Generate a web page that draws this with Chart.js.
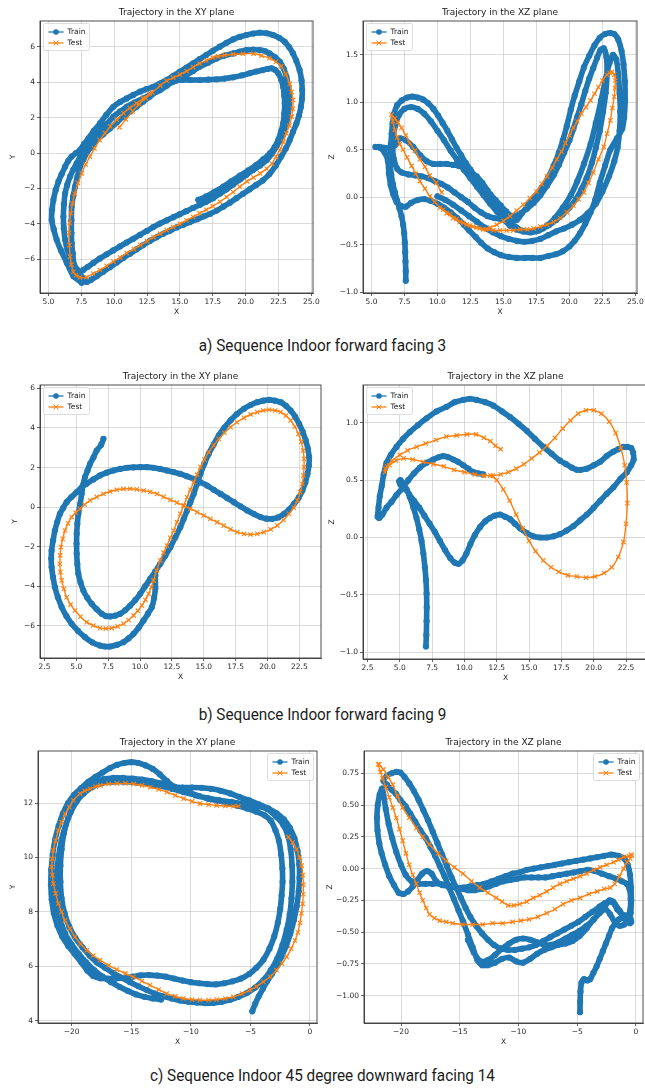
<!DOCTYPE html>
<html>
<head>
<meta charset="utf-8">
<script src="https://cdn.jsdelivr.net/npm/chart.js@4.4.1/dist/chart.umd.min.js"></script>
<style>
  html, body { margin: 0; padding: 0; background: #fff; overflow: hidden; }
  body { width: 645px; height: 1089px; position: relative; }
  canvas { position: absolute; }
  .caption {
    position: absolute; left: 0; width: 645px; text-align: center;
    font-family: Roboto, "Noto Sans", sans-serif; font-size: 17px; line-height: 20px;
    color: #1c1c1c; transform: scaleX(0.9); transform-origin: 322px 50%;
  }
</style>
</head>
<body>
<div class="caption" style="top:335px">a) Sequence Indoor forward facing 3</div>
<div class="caption" style="top:704px">b) Sequence Indoor forward facing 9</div>
<div class="caption" style="top:1065px">c) Sequence Indoor 45 degree downward facing 14</div>
<script>
// ---------- series names ----------
const seriesNames = ['Train', 'Test'];

// ---------- tick values ----------
const seq3XTicks = [5, 7.5, 10, 12.5, 15, 17.5, 20, 22.5, 25];
const seq3YTicks = [-6, -4, -2, 0, 2, 4, 6];
const seq3ZTicks = [-1.0, -0.5, 0.0, 0.5, 1.0, 1.5];
const seq9XTicks = [2.5, 5, 7.5, 10, 12.5, 15, 17.5, 20, 22.5];
const seq9YTicks = [-6, -4, -2, 0, 2, 4, 6];
const seq9ZTicks = [-1.0, -0.5, 0.0, 0.5, 1.0];
const seq14XTicks = [-20, -15, -10, -5, 0];
const seq14YTicks = [4, 6, 8, 10, 12];
const seq14ZTicks = [-1.0, -0.75, -0.5, -0.25, 0.0, 0.25, 0.5, 0.75];

// ---------- sequence 3 : XY ----------
const seq3XYTrain = [
  [7.53,-7.32],[6.9,-6.95],[6.4,-6.2],[5.95,-5.5],[5.63,-4.9],[5.4,-4.3],[5.25,-3.78],[5.28,-3.2],[5.38,-2.65],[5.55,-2.1],
  [5.76,-1.62],[6.0,-1.2],[6.27,-0.77],[6.5,-0.45],[6.77,-0.2],[7.1,0.0],[7.4,0.17],[7.7,0.5],[8.04,0.83],[8.45,1.25],
  [8.92,1.67],[9.4,2.15],[9.94,2.61],[10.45,2.88],[10.95,3.08],[11.45,3.28],[11.96,3.46],[12.45,3.6],[12.97,3.74],[13.48,3.92],
  [13.99,4.12],[14.5,4.35],[15.0,4.59],[15.5,4.82],[16.0,5.06],[16.5,5.3],[17.0,5.53],[17.5,5.77],[18.04,6.0],[18.55,6.22],
  [19.05,6.41],[19.55,6.55],[20.06,6.66],[20.57,6.74],[21.08,6.79],[21.6,6.76],[22.09,6.66],[22.55,6.5],[22.97,6.28],[23.3,5.98],
  [23.6,5.62],[23.85,5.2],[24.1,4.68],[24.25,4.1],[24.3,3.55],[24.28,3.05],[24.2,2.6],[24.05,2.1],[23.86,1.67],[23.6,1.2],
  [23.35,0.73],[23.05,0.25],[22.7,-0.2],[22.3,-0.7],[21.8,-1.2],[21.3,-1.55],[20.8,-1.8],[20.3,-2.05],[19.8,-2.3],[19.3,-2.55],
  [18.8,-2.8],[18.3,-3.03],[17.8,-3.25],[17.3,-3.43],[16.8,-3.58],[16.3,-3.74],[15.76,-3.9],[15.25,-4.05],[14.75,-4.2],[14.24,-4.38],
  [13.73,-4.56],[13.22,-4.76],[12.72,-4.96],[12.2,-5.2],[11.7,-5.44],[11.2,-5.68],[10.7,-5.92],[10.2,-6.18],[9.68,-6.44],[9.17,-6.7],
  [8.67,-6.95],[8.25,-7.15],[7.9,-7.28],[7.2,-6.6],[6.77,-6.04],[6.45,-5.5],[6.27,-4.9],[6.17,-4.25],[6.14,-3.6],[6.18,-2.9],
  [6.27,-2.28],[6.43,-1.8],[6.65,-1.33],[6.88,-0.95],[7.15,-0.58],[7.5,-0.1],[7.9,0.36],[8.4,0.78],[8.92,1.2],[9.43,1.63],
  [9.94,2.05],[10.45,2.35],[10.95,2.61],[11.55,2.85],[12.2,3.08],[12.85,3.32],[13.5,3.55],[14.0,3.8],[14.5,4.03],[15.0,4.22],
  [15.5,4.4],[16.0,4.63],[16.5,4.87],[17.15,5.1],[17.8,5.34],[18.4,5.5],[19.05,5.62],[19.55,5.72],[20.06,5.81],[20.57,5.83],
  [21.08,5.81],[21.5,5.74],[21.8,5.62],[22.25,5.4],[22.6,5.15],[22.9,4.75],[23.1,4.3],[23.25,3.75],[23.35,3.18],[23.3,2.6],
  [23.2,2.05],[23.05,1.55],[22.85,1.1],[22.6,0.72],[22.34,0.36],[22.0,-0.03],[21.6,-0.4],[21.1,-0.7],[20.57,-0.96],[20.06,-1.22],
  [19.56,-1.5],[19.05,-1.78],[18.54,-2.05],[18.03,-2.3],[17.53,-2.55],[17.0,-2.75],[16.5,-2.93],[16.0,-3.1],[15.5,-3.28],[15.0,-3.45],
  [14.5,-3.62],[14.0,-3.8],[13.48,-3.98],[12.97,-4.18],[12.47,-4.4],[11.96,-4.62],[11.46,-4.84],[10.95,-5.05],[10.44,-5.27],[9.93,-5.5],
  [9.43,-5.72],[8.92,-5.95],[8.42,-6.2],[8.0,-6.42],[7.66,-6.6],[7.28,-6.75],[6.95,-6.3],[6.85,-5.66],[6.77,-5.1],[6.75,-4.53],
  [6.75,-3.8],[6.77,-3.03],[6.88,-2.45],[7.03,-1.9],[7.2,-1.35],[7.4,-0.77],[7.65,-0.38],[7.9,-0.02],[8.25,0.35],[8.67,0.73],
  [9.15,1.05],[9.68,1.39],[10.2,1.72],[10.7,2.05],[11.2,2.33],[11.7,2.61],[12.2,2.9],[12.7,3.18],[13.2,3.46],[13.7,3.74],
  [14.2,3.95],[14.7,4.08],[15.2,4.12],[15.8,4.12],[16.5,4.12],[17.15,4.14],[17.8,4.16],[18.4,4.2],[19.05,4.27],[19.7,4.38],
  [20.3,4.5],[20.8,4.6],[21.3,4.68],[21.7,4.75],[21.96,4.78],[22.25,4.68],[22.47,4.5],[22.7,4.15],[22.85,3.74],[22.93,3.25],
  [22.97,2.8],[22.93,2.2],[22.85,1.67],[22.68,1.2],[22.47,0.73],[22.2,0.33],[21.84,-0.02],[21.35,-0.35],[20.8,-0.68],[20.2,-0.98],
  [19.56,-1.28],[18.9,-1.6],[18.3,-1.9],[17.6,-2.2],[17.0,-2.45],[16.4,-2.65]
];
const seq3XYTest = [
  [10.4,1.45],[10.9,1.9],[11.4,2.35],[11.9,2.75],[12.4,3.1],[12.9,3.42],[13.5,3.8],[14.0,4.08],[14.5,4.25],[15.0,4.42],
  [15.5,4.62],[16.0,4.85],[16.5,5.05],[17.0,5.22],[17.5,5.38],[17.9,5.45],[18.4,5.52],[19.05,5.57],[19.8,5.6],[20.6,5.6],
  [21.2,5.5],[21.8,5.35],[22.3,5.15],[22.7,4.9],[23.05,4.45],[23.35,3.9],[23.5,3.45],[23.6,3.0],[23.58,2.5],[23.5,2.05],
  [23.32,1.55],[23.1,1.1],[22.87,0.63],[22.6,0.17],[22.3,-0.22],[22.0,-0.6],[21.6,-0.88],[21.1,-1.15],[20.6,-1.38],[20.1,-1.6],
  [19.55,-1.9],[19.05,-2.2],[18.55,-2.48],[18.05,-2.75],[17.5,-3.0],[17.0,-3.2],[16.5,-3.4],[16.0,-3.6],[15.5,-3.8],[15.0,-4.0],
  [14.5,-4.18],[14.0,-4.35],[13.5,-4.55],[13.0,-4.75],[12.5,-4.97],[12.0,-5.2],[11.5,-5.42],[10.95,-5.65],[10.45,-5.9],[9.94,-6.13],
  [9.43,-6.37],[8.92,-6.6],[8.4,-6.8],[7.9,-7.0],[7.4,-7.02],[7.1,-6.9],[6.9,-6.7],[6.75,-6.3],[6.65,-5.85],[6.6,-5.2],
  [6.57,-4.5],[6.62,-3.95],[6.7,-3.4],[6.83,-2.85],[7.0,-2.3],[7.25,-1.7],[7.53,-1.15],[7.83,-0.65],[8.16,-0.2],[8.5,0.25],
  [8.9,0.73],[9.3,1.12],[9.7,1.5],[10.2,1.88],[10.7,2.25],[11.2,2.55],[11.7,2.8],[12.2,3.08],[12.7,3.35]
];

// ---------- sequence 3 : XZ ----------
const seq3XZTrain = [
  [7.6,-0.88],[7.6,-0.78],[7.58,-0.68],[7.56,-0.58],[7.53,-0.48],[7.48,-0.38],[7.4,-0.29],[7.28,-0.2],[7.12,-0.12],[6.95,-0.04],
  [6.78,0.05],[6.62,0.14],[6.5,0.24],[6.42,0.34],[6.42,0.45],[6.47,0.56],[6.53,0.67],[6.6,0.78],[6.72,0.88],[6.95,0.97],
  [7.3,1.02],[7.7,1.05],[8.1,1.06],[8.5,1.05],[8.9,1.03],[9.3,0.99],[9.7,0.93],[10.05,0.86],[10.4,0.78],[10.75,0.7],
  [11.1,0.61],[11.45,0.52],[11.8,0.44],[12.15,0.36],[12.5,0.29],[12.85,0.22],[13.2,0.15],[13.6,0.09],[14.0,0.03],[14.4,-0.03],
  [14.8,-0.09],[15.2,-0.15],[15.6,-0.2],[16.0,-0.24],[16.4,-0.17],[16.9,-0.08],[17.4,0.01],[17.9,0.1],[18.4,0.21],[18.8,0.33],
  [19.2,0.47],[19.5,0.6],[19.8,0.75],[20.1,0.92],[20.4,1.07],[20.75,1.22],[21.1,1.37],[21.5,1.49],[21.9,1.6],[22.3,1.68],
  [22.7,1.72],[23.1,1.73],[23.4,1.72],[23.7,1.66],[23.95,1.54],[24.1,1.4],[24.2,1.22],[24.22,1.02],[24.15,0.84],[24.0,0.72],
  [23.6,0.62],[23.1,0.5],[22.7,0.33],[22.3,0.15],[21.95,-0.03],[21.6,-0.16],[21.2,-0.28],[20.8,-0.38],[20.4,-0.46],[20.0,-0.52],
  [19.5,-0.57],[19.0,-0.6],[18.4,-0.62],[17.8,-0.64],[17.2,-0.64],[16.6,-0.64],[16.0,-0.64],[15.4,-0.63],[14.8,-0.61],[14.3,-0.58],
  [13.8,-0.54],[13.3,-0.48],[12.9,-0.42],[12.4,-0.35],[12.0,-0.29],[11.5,-0.22],[11.0,-0.16],[10.5,-0.11],[10.0,-0.07],[9.5,-0.04],
  [9.0,-0.02],[8.5,-0.03],[8.0,-0.06],[7.6,-0.1],[7.2,-0.09],[6.9,-0.05],[6.65,0.03],[6.45,0.13],[6.32,0.25],[6.25,0.38],
  [6.0,0.47],[5.65,0.52],[5.3,0.53],[5.6,0.53],[6.0,0.52],[6.4,0.52],[6.8,0.55],[7.15,0.62],[7.6,0.6],[8.16,0.53],
  [8.7,0.44],[9.18,0.38],[9.7,0.35],[10.2,0.35],[10.7,0.35],[11.2,0.34],[11.6,0.33],[11.96,0.31],[12.45,0.27],[12.97,0.22],
  [13.4,0.15],[13.8,0.07],[14.2,-0.02],[14.6,-0.1],[15.0,-0.18],[15.5,-0.26],[16.0,-0.32],[16.5,-0.36],[17.0,-0.37],[17.5,-0.36],
  [18.0,-0.33],[18.5,-0.29],[19.0,-0.24],[19.5,-0.18],[20.0,-0.11],[20.5,-0.02],[20.9,0.08],[21.3,0.2],[21.7,0.36],[22.0,0.52],
  [22.3,0.7],[22.55,0.9],[22.75,1.1],[22.85,1.3],[22.8,1.48],[22.6,1.57],[22.35,1.55],[22.1,1.47],[21.8,1.36],[21.5,1.25],
  [21.2,1.12],[20.9,0.98],[20.6,0.85],[20.3,0.72],[20.0,0.6],[19.6,0.47],[19.2,0.34],[18.8,0.23],[18.3,0.12],[17.8,0.02],
  [17.3,-0.06],[16.8,-0.12],[16.3,-0.17],[15.8,-0.2],[15.3,-0.22],[14.8,-0.23],[14.3,-0.22],[13.8,-0.2],[13.3,-0.16],[12.8,-0.11],
  [12.3,-0.05],[11.8,0.0],[11.3,0.05],[10.8,0.1],[10.3,0.14],[9.8,0.17],[9.3,0.2],[8.8,0.22],[8.3,0.23],[7.8,0.24],
  [7.3,0.26],[6.95,0.3],[6.7,0.4],[6.6,0.52],[6.65,0.62],[6.8,0.75],[7.1,0.87],[7.5,0.93],[8.0,0.95],[8.5,0.93],
  [9.0,0.88],[9.5,0.8],[10.0,0.7],[10.5,0.6],[11.0,0.49],[11.5,0.39],[12.0,0.29],[12.5,0.2],[13.0,0.11],[13.5,0.02],
  [14.0,-0.07],[14.5,-0.15],[15.0,-0.23],[15.5,-0.3],[16.0,-0.34],[16.5,-0.36],[17.1,-0.37],[17.7,-0.35],[18.3,-0.3],[18.9,-0.22],
  [19.5,-0.11],[20.1,0.02],[20.6,0.17],[21.1,0.35],[21.6,0.56],[22.0,0.78],[22.4,1.02],[22.75,1.25],[23.05,1.42],[23.3,1.5],
  [23.55,1.45],[23.7,1.3],[23.8,1.1],[23.85,0.9],[23.8,0.7],[23.65,0.52],[23.4,0.38],[23.0,0.22],[22.5,0.06],[22.0,-0.07],
  [21.4,-0.17],[20.8,-0.24],[20.2,-0.29],[19.6,-0.33],[19.0,-0.36],[18.4,-0.4],[17.8,-0.44],[17.2,-0.46],[16.6,-0.47],[16.0,-0.46],
  [15.4,-0.44],[14.8,-0.41],[14.2,-0.37],[13.6,-0.32],[13.0,-0.26],[12.4,-0.2],[11.8,-0.14],[11.2,-0.08],[10.6,-0.03],[10.0,0.01]
];
const seq3XZTest = [
  [10.32,0.05],[9.9,0.15],[9.43,0.23],[9.05,0.32],[8.67,0.4],[8.3,0.49],[7.91,0.57],[7.6,0.65],[7.28,0.73],[7.0,0.79],
  [6.77,0.83],[6.52,0.87],[6.62,0.8],[6.77,0.71],[6.95,0.63],[7.15,0.56],[7.4,0.5],[7.7,0.42],[8.04,0.33],[8.35,0.25],
  [8.67,0.17],[9.05,0.09],[9.43,0.01],[9.8,-0.05],[10.2,-0.11],[10.7,-0.17],[11.2,-0.22],[11.7,-0.26],[12.2,-0.29],[12.7,-0.31],
  [13.2,-0.33],[13.7,-0.34],[14.24,-0.35],[14.75,-0.35],[15.25,-0.35],[15.75,-0.35],[16.27,-0.34],[16.8,-0.34],[17.28,-0.33],[17.8,-0.31],
  [18.3,-0.29],[18.8,-0.26],[19.3,-0.22],[19.8,-0.16],[20.3,-0.09],[20.7,-0.02],[21.1,0.05],[21.45,0.15],[21.8,0.26],[22.2,0.4],
  [22.6,0.53],[22.85,0.67],[23.1,0.81],[23.25,0.94],[23.4,1.06],[23.45,1.15],[23.48,1.23],[23.4,1.29],[23.23,1.32],[23.05,1.31],
  [22.85,1.29],[22.5,1.23],[22.2,1.16],[21.9,1.09],[21.6,1.02],[21.25,0.95],[20.9,0.88],[20.6,0.8],[20.3,0.73],[20.0,0.65],
  [19.7,0.57],[19.4,0.48],[19.05,0.4],[18.7,0.31],[18.3,0.22],[17.9,0.14],[17.5,0.06],[17.0,-0.01],[16.5,-0.08],[16.0,-0.14],
  [15.5,-0.2],[15.0,-0.25],[14.5,-0.29],[14.0,-0.32],[13.48,-0.34],[12.97,-0.32],[12.47,-0.3],[11.96,-0.27],[11.46,-0.23],[10.95,-0.18],
  [10.44,-0.13]
];

// ---------- sequence 9 : XY ----------
const seq9XYTrain = [
  [7.13,3.45],[6.95,3.15],[6.6,2.86],[6.35,2.52],[6.08,2.19],[5.88,1.85],[5.68,1.52],[5.52,1.1],[5.42,0.67],[5.3,0.15],
  [5.16,-0.34],[5.08,-0.85],[5.03,-1.35],[5.02,-1.85],[5.03,-2.36],[5.08,-2.87],[5.16,-3.37],[5.33,-3.8],[5.55,-4.21],[5.85,-4.57],
  [6.2,-4.88],[6.58,-5.15],[6.99,-5.39],[7.3,-5.5],[7.65,-5.52],[8.05,-5.48],[8.44,-5.39],[8.85,-5.2],[9.23,-4.97],[9.62,-4.7],
  [10.01,-4.38],[10.4,-4.0],[10.8,-3.62],[11.2,-3.24],[11.59,-2.86],[11.98,-2.45],[12.38,-2.02],[12.77,-1.52],[13.16,-1.01],[13.42,-0.6],
  [13.69,-0.17],[13.95,0.25],[14.21,0.67],[14.47,1.17],[14.74,1.68],[15.05,2.2],[15.39,2.69],[15.78,3.17],[16.18,3.62],[16.62,4.02],
  [17.1,4.38],[17.6,4.7],[18.15,4.97],[18.68,5.16],[19.2,5.3],[19.65,5.38],[20.12,5.42],[20.6,5.38],[21.04,5.3],[21.45,5.12],
  [21.82,4.88],[22.17,4.57],[22.48,4.21],[22.77,3.8],[23.0,3.37],[23.17,2.95],[23.27,2.53],[23.25,2.1],[23.14,1.68],[22.97,1.25],
  [22.74,0.84],[22.45,0.48],[22.09,0.17],[21.7,-0.12],[21.3,-0.34],[20.85,-0.52],[20.38,-0.59],[19.92,-0.58],[19.46,-0.5],[18.95,-0.35],
  [18.41,-0.17],[17.88,0.04],[17.36,0.25],[16.84,0.46],[16.31,0.67],[15.78,0.88],[15.26,1.09],[14.73,1.26],[14.21,1.43],[13.68,1.56],
  [13.16,1.68],[12.64,1.77],[12.11,1.85],[11.58,1.93],[11.06,1.99],[10.53,2.02],[10.01,2.02],[9.48,2.01],[8.96,1.99],[8.43,1.93],
  [7.91,1.85],[7.38,1.74],[6.86,1.6],[6.33,1.4],[5.81,1.18],[5.4,0.98],[5.03,0.76],[4.62,0.51],[4.24,0.25],[3.96,-0.05],
  [3.71,-0.34],[3.5,-0.75],[3.32,-1.18],[3.18,-1.68],[3.06,-2.19],[3.03,-2.6],[3.06,-3.03],[3.17,-3.53],[3.32,-4.04],[3.55,-4.55],
  [3.85,-5.05],[4.22,-5.5],[4.63,-5.89],[5.13,-6.25],[5.68,-6.57],[6.25,-6.83],[6.86,-6.99],[7.25,-7.04],[7.65,-7.04],[8.2,-6.95],
  [8.7,-6.82],[9.1,-6.63],[9.49,-6.4],[9.9,-6.08],[10.28,-5.72],[10.62,-5.38],[10.93,-5.05],[11.1,-4.6],[11.2,-4.1],[11.2,-3.45]
];
const seq9XYTest = [
  [11.06,-3.7],[11.3,-3.2],[11.59,-2.69],[11.85,-2.3],[12.11,-1.94],[12.38,-1.55],[12.64,-1.18],[12.9,-0.76],[13.16,-0.34],[13.43,0.08],
  [13.69,0.5],[13.95,0.88],[14.21,1.26],[14.47,1.64],[14.74,2.02],[15.05,2.4],[15.39,2.78],[15.78,3.12],[16.18,3.45],[16.62,3.76],
  [17.1,4.04],[17.6,4.29],[18.15,4.51],[18.68,4.68],[19.2,4.8],[19.66,4.88],[20.12,4.92],[20.6,4.88],[21.04,4.8],[21.45,4.62],
  [21.82,4.38],[22.15,4.06],[22.43,3.7],[22.65,3.3],[22.8,2.86],[22.87,2.44],[22.87,2.02],[22.82,1.6],[22.74,1.18],[22.57,0.76],
  [22.35,0.34],[22.05,-0.02],[21.69,-0.34],[21.25,-0.65],[20.77,-0.93],[20.25,-1.12],[19.72,-1.26],[19.2,-1.35],[18.67,-1.38],[18.15,-1.35],
  [17.62,-1.26],[17.1,-1.12],[16.57,-0.93],[16.05,-0.76],[15.52,-0.59],[15.0,-0.42],[14.47,-0.25],[13.95,-0.08],[13.43,0.08],[12.9,0.23],
  [12.38,0.37],[11.85,0.52],[11.33,0.67],[10.8,0.77],[10.28,0.84],[9.75,0.9],[9.23,0.93],[8.7,0.92],[8.18,0.88],[7.65,0.79],
  [7.13,0.67],[6.6,0.52],[6.08,0.34],[5.65,0.13],[5.29,-0.08],[4.95,-0.28],[4.63,-0.5],[4.35,-0.82],[4.11,-1.18],[3.93,-1.6],
  [3.79,-2.02],[3.73,-2.44],[3.71,-2.86],[3.75,-3.28],[3.85,-3.7],[4.02,-4.13],[4.24,-4.55],[4.55,-4.92],[4.9,-5.22],[5.33,-5.53],
  [5.81,-5.81],[6.33,-5.98],[6.86,-6.11],[7.32,-6.13],[7.78,-6.11],[8.25,-6.02],[8.7,-5.89],[9.1,-5.7],[9.49,-5.47],[9.83,-5.23],
  [10.14,-4.97],[10.42,-4.68],[10.67,-4.38],[10.88,-4.04],[11.06,-3.7]
];

// ---------- sequence 9 : XZ ----------
const seq9XZTrain = [
  [7.02,-0.95],[7.05,-0.85],[7.07,-0.73],[7.08,-0.61],[7.07,-0.49],[7.02,-0.37],[6.94,-0.26],[6.82,-0.14],[6.68,-0.03],[6.5,0.07],
  [6.29,0.17],[6.05,0.26],[5.78,0.35],[5.52,0.42],[5.26,0.47],[5.05,0.5],[4.95,0.49],[5.05,0.46],[5.3,0.44],[5.7,0.38],
  [6.1,0.32],[6.5,0.26],[6.9,0.19],[7.3,0.12],[7.7,0.05],[8.1,-0.03],[8.5,-0.11],[8.9,-0.18],[9.25,-0.22],[9.55,-0.23],
  [9.85,-0.2],[10.15,-0.14],[10.45,-0.06],[10.8,0.02],[11.2,0.09],[11.6,0.14],[11.98,0.17],[12.35,0.19],[12.75,0.2],[13.15,0.18],
  [13.53,0.16],[13.9,0.12],[14.3,0.08],[14.8,0.04],[15.34,0.01],[15.85,0.0],[16.37,0.0],[16.9,0.01],[17.4,0.03],[17.9,0.06],
  [18.44,0.1],[18.95,0.15],[19.47,0.2],[20.0,0.26],[20.5,0.32],[21.0,0.38],[21.54,0.44],[22.05,0.51],[22.57,0.57],[22.9,0.63],
  [23.09,0.68],[23.05,0.74],[22.9,0.78],[22.6,0.79],[22.31,0.79],[21.9,0.77],[21.54,0.75],[21.0,0.71],[20.5,0.66],[20.0,0.63],
  [19.47,0.6],[19.0,0.59],[18.7,0.59],[18.3,0.61],[17.85,0.64],[17.4,0.67],[16.75,0.73],[16.11,0.79],[15.45,0.86],[14.82,0.93],
  [14.2,0.99],[13.53,1.05],[12.9,1.1],[12.24,1.15],[11.6,1.18],[10.94,1.2],[10.4,1.21],[9.91,1.2],[9.25,1.18],[8.62,1.14],
  [7.85,1.1],[7.07,1.04],[6.4,0.98],[5.78,0.92],[5.25,0.86],[4.74,0.79],[4.3,0.72],[3.97,0.65],[3.75,0.55],[3.6,0.45],
  [3.45,0.36],[3.35,0.26],[3.28,0.18],[3.4,0.17],[3.65,0.2],[3.97,0.26],[4.35,0.31],[4.74,0.37],[5.2,0.43],[5.65,0.5],
  [6.1,0.56],[6.55,0.61],[7.05,0.65],[7.58,0.68],[8.0,0.7],[8.36,0.71],[8.75,0.7],[9.13,0.68],[9.5,0.66],[9.91,0.63],
  [10.3,0.6],[10.68,0.57],[11.05,0.56],[11.46,0.55]
];
const seq9XZTest = [
  [12.0,0.54],[12.5,0.5],[13.0,0.42],[13.5,0.32],[14.0,0.2],[14.5,0.08],[15.0,-0.03],[15.5,-0.12],[16.1,-0.2],[16.7,-0.26],
  [17.3,-0.3],[18.0,-0.33],[18.7,-0.34],[19.4,-0.35],[20.1,-0.34],[20.8,-0.31],[21.4,-0.26],[21.9,-0.17],[22.3,-0.04],[22.5,0.12],
  [22.6,0.3],[22.55,0.48],[22.4,0.63],[22.1,0.78],[21.7,0.91],[21.2,1.01],[20.6,1.08],[20.0,1.11],[19.4,1.11],[18.8,1.08],
  [18.2,1.02],[17.6,0.95],[17.0,0.87],[16.4,0.8],[15.8,0.74],[15.2,0.69],[14.6,0.64],[14.0,0.6],[13.4,0.57],[12.8,0.55],
  [12.2,0.54],[11.5,0.54],[10.8,0.55],[10.0,0.57],[9.2,0.59],[8.4,0.62],[7.6,0.64],[6.8,0.66],[6.0,0.68],[5.3,0.69],
  [4.7,0.67],[4.2,0.63],[3.9,0.6],[3.85,0.57],[4.0,0.62],[4.4,0.67],[5.0,0.72],[5.6,0.76],[6.3,0.79],[7.0,0.82],
  [7.8,0.85],[8.6,0.88],[9.4,0.89],[10.2,0.9],[10.9,0.9],[11.5,0.87],[12.0,0.84],[12.4,0.8],[12.8,0.77]
];

// ---------- sequence 14 : XY ----------
const seq14XYTrain = [
  [-4.84,4.35],[-4.6,4.62],[-4.3,4.9],[-3.95,5.18],[-3.6,5.45],[-3.2,5.72],[-2.8,6.0],[-2.4,6.35],[-2.0,6.75],[-1.65,7.2],
  [-1.35,7.7],[-1.12,8.2],[-0.95,8.75],[-0.88,9.25],[-0.9,9.75],[-1.05,10.25],[-1.3,10.7],[-1.7,11.1],[-2.2,11.4],[-2.8,11.62],
  [-3.5,11.8],[-4.3,11.95],[-5.1,12.1],[-5.9,12.22],[-6.7,12.35],[-7.5,12.45],[-8.3,12.52],[-9.1,12.56],[-9.9,12.57],[-10.7,12.57],
  [-11.4,12.6],[-12.0,12.8],[-12.6,13.05],[-13.2,13.25],[-13.8,13.38],[-14.4,13.47],[-15.0,13.5],[-15.6,13.47],[-16.2,13.4],[-16.8,13.28],
  [-17.4,13.12],[-18.0,12.96],[-18.6,12.78],[-19.2,12.55],[-19.8,12.3],[-20.3,12.0],[-20.75,11.6],[-21.1,11.15],[-21.4,10.65],[-21.6,10.1],
  [-21.72,9.55],[-21.75,9.0],[-21.68,8.45],[-21.5,7.95],[-21.2,7.5],[-20.8,7.1],[-20.3,6.75],[-19.75,6.45],[-19.2,6.15],[-18.7,5.85],
  [-18.2,5.65],[-17.6,5.56],[-17.0,5.55],[-16.3,5.55],[-15.6,5.57],[-14.9,5.62],[-14.2,5.67],[-13.5,5.68],[-12.8,5.66],[-12.1,5.62],
  [-11.4,5.55],[-10.7,5.48],[-10.0,5.42],[-9.3,5.38],[-8.6,5.35],[-7.9,5.34],[-7.2,5.38],[-6.5,5.45],[-5.8,5.55],[-5.1,5.72],
  [-4.5,5.95],[-3.9,6.25],[-3.4,6.65],[-3.0,7.1],[-2.7,7.6],[-2.5,8.1],[-2.38,8.6],[-2.3,9.1],[-2.32,9.6],[-2.42,10.1],
  [-2.6,10.6],[-2.9,11.0],[-3.3,11.35],[-3.8,11.55],[-4.5,11.68],[-5.3,11.8],[-6.1,11.9],[-6.9,12.0],[-7.7,12.08],[-8.5,12.15],
  [-9.3,12.25],[-10.1,12.38],[-10.9,12.5],[-11.7,12.62],[-12.5,12.72],[-13.3,12.8],[-14.1,12.86],[-14.9,12.9],[-15.7,12.92],[-16.5,12.92],
  [-17.3,12.88],[-18.0,12.75],[-18.7,12.55],[-19.3,12.28],[-19.85,11.9],[-20.3,11.45],[-20.65,10.9],[-20.85,10.3],[-20.95,9.7],[-20.95,9.1],
  [-20.85,8.5],[-20.6,7.95],[-20.2,7.45],[-19.7,7.05],[-19.1,6.7],[-18.5,6.4],[-17.9,6.15],[-17.2,5.95],[-16.5,5.75],[-15.8,5.58],
  [-15.1,5.42],[-14.4,5.27],[-13.7,5.13],[-13.0,5.0],[-12.3,4.9],[-11.6,4.82],[-10.9,4.75],[-10.2,4.7],[-9.5,4.67],[-8.8,4.65],
  [-8.1,4.66],[-7.4,4.7],[-6.7,4.77],[-6.0,4.88],[-5.3,5.02],[-4.6,5.22],[-3.9,5.5],[-3.3,5.85],[-2.75,6.28],[-2.3,6.8],
  [-1.95,7.35],[-1.7,7.9],[-1.55,8.5],[-1.48,9.1],[-1.5,9.7],[-1.62,10.3],[-1.85,10.8],[-2.25,11.2],[-2.85,11.5],[-3.6,11.78],
  [-4.6,11.9],[-5.6,11.98],[-6.6,12.04],[-7.6,12.1],[-8.6,12.18],[-9.6,12.28],[-10.6,12.4],[-11.6,12.52],[-12.6,12.62],[-13.6,12.7],
  [-14.6,12.75],[-15.6,12.78],[-16.6,12.78],[-17.5,12.72],[-18.3,12.58],[-19.0,12.35],[-19.6,12.05],[-20.1,11.65],[-20.5,11.2],[-20.85,10.65],
  [-21.1,10.05],[-21.25,9.45],[-21.3,8.85],[-21.2,8.25],[-20.95,7.7],[-20.55,7.2],[-20.0,6.8],[-19.4,6.45],[-18.8,6.15],[-18.1,5.85],
  [-17.4,5.62],[-16.7,5.42],[-16.0,5.25],[-15.3,5.1],[-14.6,4.97],[-13.9,4.88],[-13.2,4.82],[-12.5,4.78]
];
const seq14XYTest = [
  [-1.82,10.75],[-1.45,10.55],[-1.12,10.3],[-0.88,10.0],[-0.7,9.7],[-0.6,9.35],[-0.56,9.0],[-0.57,8.65],[-0.62,8.3],[-0.72,7.95],
  [-0.84,7.6],[-1.02,7.25],[-1.26,6.95],[-1.58,6.65],[-1.96,6.35],[-2.35,6.1],[-2.8,5.86],[-3.35,5.62],[-3.92,5.43],[-4.5,5.26],
  [-5.03,5.13],[-5.7,5.0],[-6.43,4.88],[-7.1,4.82],[-7.83,4.78],[-8.5,4.76],[-9.23,4.76],[-9.9,4.78],[-10.63,4.82],[-11.3,4.9],
  [-12.03,5.0],[-12.7,5.15],[-13.43,5.31],[-14.1,5.46],[-14.83,5.61],[-15.5,5.74],[-16.22,5.88],[-16.9,6.04],[-17.62,6.23],[-18.2,6.4],
  [-18.74,6.59],[-19.25,6.82],[-19.72,7.08],[-20.15,7.38],[-20.56,7.69],[-20.85,8.0],[-21.12,8.31],[-21.35,8.68],[-21.54,9.04],[-21.62,9.35],
  [-21.68,9.65],[-21.62,9.95],[-21.54,10.26],[-21.35,10.62],[-21.12,10.99],[-20.85,11.3],[-20.56,11.6],[-20.2,11.85],[-19.86,12.1],[-19.3,12.34],
  [-18.9,12.45],[-18.46,12.52],[-18.0,12.6],[-17.6,12.65],[-16.9,12.7],[-16.2,12.72],[-15.5,12.72],[-14.8,12.7],[-14.1,12.65],[-13.4,12.58],
  [-12.7,12.5],[-12.0,12.4],[-11.3,12.28],[-10.6,12.16],[-9.9,12.06],[-9.23,11.98],[-8.5,11.94],[-7.83,11.91],[-7.1,11.89],[-6.43,11.88],
  [-6.0,11.88]
];

// ---------- sequence 14 : XZ ----------
const seq14XZTrain = [
  [-4.76,-1.13],[-4.75,-1.05],[-4.72,-0.97],[-4.64,-0.9],[-4.42,-0.87],[-4.15,-0.88],[-3.9,-0.87],[-3.62,-0.82],[-3.35,-0.77],[-3.08,-0.71],
  [-2.82,-0.65],[-2.56,-0.59],[-2.3,-0.53],[-2.04,-0.47],[-1.76,-0.43],[-1.45,-0.4],[-1.1,-0.39],[-0.78,-0.41],[-0.52,-0.43],[-0.4,-0.42],
  [-0.48,-0.39],[-0.8,-0.37],[-1.2,-0.36],[-1.6,-0.32],[-1.95,-0.26],[-2.25,-0.25],[-2.6,-0.29],[-3.0,-0.34],[-3.6,-0.4],[-4.2,-0.47],
  [-4.8,-0.53],[-5.4,-0.57],[-6.0,-0.59],[-6.6,-0.6],[-7.2,-0.62],[-7.8,-0.64],[-8.4,-0.67],[-9.0,-0.71],[-9.6,-0.74],[-10.2,-0.73],
  [-10.8,-0.7],[-11.4,-0.71],[-12.0,-0.74],[-12.6,-0.76],[-13.1,-0.76],[-13.5,-0.72],[-13.9,-0.62],[-14.3,-0.52],[-14.7,-0.42],[-15.1,-0.33],
  [-15.5,-0.24],[-15.9,-0.15],[-16.3,-0.06],[-16.7,0.02],[-17.1,0.1],[-17.5,0.17],[-17.9,0.24],[-18.35,0.3],[-18.8,0.37],[-19.2,0.43],
  [-19.6,0.49],[-20.06,0.54],[-20.45,0.59],[-20.8,0.62],[-21.2,0.66],[-21.5,0.69],[-21.2,0.73],[-20.8,0.75],[-20.4,0.76],[-20.06,0.755],
  [-19.7,0.72],[-19.3,0.67],[-18.9,0.61],[-18.5,0.54],[-18.1,0.46],[-17.7,0.38],[-17.3,0.29],[-16.9,0.2],[-16.5,0.11],[-16.1,0.02],
  [-15.7,-0.07],[-15.3,-0.15],[-14.9,-0.23],[-14.5,-0.31],[-14.1,-0.38],[-13.6,-0.45],[-13.1,-0.51],[-12.6,-0.56],[-12.1,-0.6],[-11.5,-0.63],
  [-10.9,-0.64],[-10.3,-0.64],[-9.7,-0.63],[-9.1,-0.62],[-8.5,-0.6],[-7.9,-0.57],[-7.3,-0.54],[-6.7,-0.51],[-6.1,-0.48],[-5.5,-0.45],
  [-4.9,-0.42],[-4.3,-0.38],[-3.7,-0.34],[-3.1,-0.3],[-2.6,-0.27],[-2.2,-0.26],[-1.8,-0.28],[-1.4,-0.33],[-1.0,-0.38],[-0.65,-0.41],
  [-0.45,-0.35],[-0.4,-0.25],[-0.42,-0.15],[-0.5,-0.05],[-0.7,0.03],[-1.0,0.08],[-1.5,0.1],[-2.1,0.11],[-2.7,0.1],[-3.3,0.09],
  [-3.9,0.08],[-4.5,0.07],[-5.1,0.06],[-5.7,0.05],[-6.3,0.04],[-6.9,0.03],[-7.5,0.02],[-8.1,0.01],[-8.7,0.0],[-9.3,-0.01],
  [-9.9,-0.03],[-10.5,-0.04],[-11.1,-0.06],[-11.7,-0.08],[-12.3,-0.1],[-12.9,-0.12],[-13.5,-0.13],[-14.1,-0.14],[-14.7,-0.15],[-15.3,-0.15],
  [-15.9,-0.14],[-16.5,-0.13],[-17.0,-0.1],[-17.4,-0.04],[-17.8,-0.02],[-18.2,-0.04],[-18.6,-0.09],[-19.0,-0.14],[-19.4,-0.18],[-19.8,-0.2],
  [-20.2,-0.19],[-20.6,-0.13],[-21.0,-0.06],[-21.35,0.03],[-21.65,0.12],[-21.85,0.2],[-22.0,0.3],[-22.05,0.4],[-21.98,0.5],[-21.82,0.58],
  [-21.6,0.63],[-21.3,0.47],[-21.05,0.35],[-20.75,0.24],[-20.4,0.13],[-20.0,0.03],[-19.6,-0.05],[-19.1,-0.1],[-18.5,-0.12],[-17.9,-0.12],
  [-17.3,-0.12],[-16.7,-0.12],[-16.1,-0.13],[-15.5,-0.14],[-14.9,-0.16],[-14.3,-0.17],[-13.7,-0.17],[-13.1,-0.16],[-12.5,-0.14],[-11.9,-0.12],
  [-11.3,-0.1],[-10.7,-0.09],[-10.1,-0.08],[-9.5,-0.07],[-8.9,-0.07],[-8.3,-0.07],[-7.7,-0.07],[-7.1,-0.06],[-6.5,-0.05],[-5.9,-0.04],
  [-5.3,-0.03],[-4.7,-0.02],[-4.1,-0.01],[-3.5,-0.02],[-2.9,-0.04],[-2.3,-0.06],[-1.7,-0.08],[-1.2,-0.1],[-0.8,-0.12],[-0.55,-0.16],
  [-0.45,-0.24],[-0.5,-0.33],[-0.7,-0.4],[-1.0,-0.44],[-1.4,-0.45],[-1.8,-0.42],[-2.2,-0.36],[-2.6,-0.32],[-3.1,-0.35],[-3.6,-0.4],
  [-4.2,-0.45],[-4.8,-0.49],[-5.4,-0.52],[-6.0,-0.55],[-6.6,-0.58],[-7.2,-0.6],[-7.8,-0.6],[-8.4,-0.58],[-9.0,-0.56],[-9.6,-0.55],
  [-10.2,-0.56],[-10.8,-0.59],[-11.4,-0.63],[-12.0,-0.68],[-12.6,-0.72],[-13.2,-0.73],[-13.8,-0.66],[-14.3,-0.56]
];
const seq14XZTest = [
  [-21.95,0.82],[-21.75,0.76],[-21.57,0.71],[-21.3,0.64],[-21.0,0.56],[-20.7,0.48],[-20.4,0.4],[-20.13,0.31],[-19.86,0.22],[-19.58,0.12],
  [-19.3,0.03],[-19.0,-0.05],[-18.7,-0.12],[-18.42,-0.19],[-18.15,-0.25],[-17.86,-0.31],[-17.58,-0.36],[-17.15,-0.39],[-16.7,-0.41],[-16.15,-0.42],
  [-15.6,-0.43],[-14.75,-0.44],[-13.9,-0.44],[-13.05,-0.44],[-12.2,-0.43],[-11.35,-0.43],[-10.5,-0.42],[-9.8,-0.41],[-9.1,-0.4],[-8.35,-0.38],
  [-7.6,-0.35],[-6.9,-0.32],[-6.2,-0.28],[-5.5,-0.25],[-4.76,-0.23],[-4.0,-0.2],[-3.3,-0.18],[-2.7,-0.16],[-2.2,-0.15],[-1.8,-0.12],
  [-1.4,-0.06],[-1.05,0.0],[-0.75,0.05],[-0.5,0.08],[-0.35,0.1],[-0.4,0.11],[-0.6,0.1],[-1.05,0.09],[-1.5,0.07],[-1.9,0.05],
  [-2.5,0.03],[-3.05,0.01],[-3.6,-0.01],[-4.19,-0.04],[-4.75,-0.06],[-5.33,-0.08],[-5.9,-0.1],[-6.47,-0.12],[-7.05,-0.15],[-7.6,-0.18],
  [-8.2,-0.21],[-8.75,-0.23],[-9.3,-0.26],[-9.9,-0.28],[-10.4,-0.29],[-10.88,-0.29],[-11.4,-0.26],[-11.9,-0.23],[-12.6,-0.19],[-13.3,-0.15],
  [-14.0,-0.1],[-14.73,-0.04],[-15.45,0.01],[-16.15,0.06],[-16.85,0.12],[-17.6,0.19],[-18.15,0.25],[-18.7,0.32],[-19.3,0.4],[-19.86,0.48],
  [-20.3,0.57],[-20.7,0.66],[-21.1,0.72],[-21.5,0.78],[-21.85,0.82]
];

// ---------- drawing helpers ----------
const TRAIN_COLOR = '#1f77b4';
const TEST_COLOR = '#ff7f0e';
const MPL_FONT = '"DejaVu Sans", Verdana, sans-serif';

function fmt(v, dec) {
  const s = Math.abs(v).toFixed(dec);
  return (v < 0 && Number(s) !== 0) ? '\u2212' + s : s;
}
const toPoints = arr => arr.map(p => ({ x: p[0], y: p[1] }));

// axes frame (top and right spines)
const framePlugin = {
  id: 'frame',
  afterDatasetsDraw(chart) {
    const { ctx, chartArea: a } = chart;
    ctx.save();
    ctx.strokeStyle = '#3a3a3a';
    ctx.lineWidth = 0.9;
    ctx.strokeRect(a.left, a.top, a.right - a.left, a.bottom - a.top);
    ctx.restore();
  }
};

// panel title centered above the plot area
const panelTitlePlugin = {
  id: 'panelTitle',
  afterDraw(chart, args, opts) {
    const { ctx, chartArea: a } = chart;
    ctx.save();
    ctx.font = '9px ' + MPL_FONT;
    ctx.fillStyle = '#1a1a1a';
    ctx.textAlign = 'center';
    ctx.textBaseline = 'middle';
    ctx.fillText(opts.text, (a.left + a.right) / 2, a.top - 8);
    ctx.restore();
  }
};

// legend box with line + marker samples
const legendPlugin = {
  id: 'lineMarkerLegend',
  afterDraw(chart, args, opts) {
    const { ctx, chartArea: a } = chart;
    const w = 46, h = 27;
    const x0 = opts.corner === 'right' ? a.right - 3.5 - w : a.left + 3.5;
    const y0 = a.top + 2.5;
    ctx.save();
    ctx.beginPath();
    if (ctx.roundRect) ctx.roundRect(x0, y0, w, h, 2); else ctx.rect(x0, y0, w, h);
    ctx.fillStyle = 'rgba(255,255,255,0.85)';
    ctx.fill();
    ctx.strokeStyle = '#d4d4d4';
    ctx.lineWidth = 0.8;
    ctx.stroke();
    seriesNames.forEach((name, i) => {
      const y = y0 + 8.5 + i * 11;
      const color = i === 0 ? TRAIN_COLOR : TEST_COLOR;
      ctx.strokeStyle = color;
      ctx.lineWidth = 1.3;
      ctx.beginPath();
      ctx.moveTo(x0 + 5, y);
      ctx.lineTo(x0 + 20, y);
      ctx.stroke();
      const mx = x0 + 12.5;
      if (i === 0) {
        ctx.fillStyle = color;
        ctx.beginPath();
        ctx.arc(mx, y, 2.8, 0, Math.PI * 2);
        ctx.fill();
      } else {
        ctx.lineWidth = 1;
        ctx.beginPath();
        ctx.moveTo(mx - 2.4, y - 2.4); ctx.lineTo(mx + 2.4, y + 2.4);
        ctx.moveTo(mx - 2.4, y + 2.4); ctx.lineTo(mx + 2.4, y - 2.4);
        ctx.stroke();
      }
      ctx.fillStyle = '#222';
      ctx.font = '7.5px ' + MPL_FONT;
      ctx.textAlign = 'left';
      ctx.textBaseline = 'middle';
      ctx.fillText(name, x0 + 24, y + 0.5);
    });
    ctx.restore();
  }
};

function axisOptions(min, max, ticks, dec, title, isX, yTitleGap) {
  const padL = 42, padB = 30;
  return {
    type: 'linear',
    min: min,
    max: max,
    afterFit: s => { if (isX) s.height = padB; else s.width = padL; },
    afterBuildTicks: s => { s.ticks = ticks.map(v => ({ value: v })); },
    ticks: {
      callback: v => fmt(v, dec),
      font: { family: MPL_FONT, size: 7.5 },
      color: '#2a2a2a',
      padding: 2,
      maxRotation: 0,
      autoSkip: false
    },
    grid: {
      color: 'rgba(165,165,165,0.5)',
      lineWidth: 0.8,
      tickLength: 3,
      tickColor: '#3a3a3a',
      tickWidth: 0.8
    },
    border: { display: true, color: '#3a3a3a', width: 0.9 },
    title: {
      display: true,
      text: title,
      color: '#2a2a2a',
      font: { family: MPL_FONT, size: 7.5 },
      padding: isX ? { top: 0, bottom: padB - 19 - 4.5 } : { top: padL - yTitleGap - 4.5, bottom: 0 }
    }
  };
}

function makePanel(p) {
  const padL = 42, padT = 22, padR = 14, padB = 30;
  const [L, T, R, B] = p.area;
  const W = R - L + padL + padR, H = B - T + padT + padB;
  const canvas = document.createElement('canvas');
  canvas.width = W; canvas.height = H;
  canvas.style.left = (L - padL) + 'px';
  canvas.style.top = (T - padT) + 'px';
  canvas.style.width = W + 'px';
  canvas.style.height = H + 'px';
  document.body.appendChild(canvas);

  new Chart(canvas, {
    type: 'scatter',
    data: {
      datasets: [
        {
          label: seriesNames[0],
          data: toPoints(p.train),
          showLine: true,
          borderColor: TRAIN_COLOR,
          backgroundColor: TRAIN_COLOR,
          borderWidth: 5.6,
          borderCapStyle: 'round',
          borderJoinStyle: 'round',
          tension: 0.3,
          pointRadius: 3.1,
          pointBorderWidth: 0,
          pointHoverRadius: 3.1,
          order: 1
        },
        {
          label: seriesNames[1],
          data: toPoints(p.test),
          showLine: true,
          borderColor: TEST_COLOR,
          backgroundColor: TEST_COLOR,
          borderWidth: 1.4,
          tension: 0.3,
          pointStyle: 'crossRot',
          pointRadius: 3.1,
          pointBorderWidth: 1.1,
          pointBorderColor: TEST_COLOR,
          pointHoverRadius: 3.1,
          order: 0
        }
      ]
    },
    options: {
      responsive: false,
      animation: false,
      events: [],
      layout: { padding: { left: 0, top: padT, right: padR, bottom: 0 } },
      scales: {
        x: axisOptions(p.xRange[0], p.xRange[1], p.xTicks, p.xDec, 'X', true),
        y: axisOptions(p.yRange[0], p.yRange[1], p.yTicks, p.yDec, p.yTitle, false, p.yTitleGap)
      },
      plugins: {
        legend: { display: false },
        tooltip: { enabled: false },
        panelTitle: { text: p.title },
        lineMarkerLegend: { corner: p.legendCorner }
      }
    },
    plugins: [framePlugin, panelTitlePlugin, legendPlugin]
  });
}

makePanel({ area: [40, 21, 313, 293], xRange: [4.36, 25.12], yRange: [-7.9, 7.45],
  xTicks: seq3XTicks, yTicks: seq3YTicks, xDec: 1, yDec: 0, yTitle: 'Y', yTitleGap: 27,
  title: 'Trajectory in the XY plane', legendCorner: 'left', train: seq3XYTrain, test: seq3XYTest });
makePanel({ area: [363, 21, 637, 293], xRange: [4.36, 25.12], yRange: [-1.01, 1.857],
  xTicks: seq3XTicks, yTicks: seq3ZTicks, xDec: 1, yDec: 1, yTitle: 'Z', yTitleGap: 31,
  title: 'Trajectory in the XZ plane', legendCorner: 'left', train: seq3XZTrain, test: seq3XZTest });
makePanel({ area: [40, 385, 321, 658], xRange: [2.15, 24.2], yRange: [-7.62, 6.17],
  xTicks: seq9XTicks, yTicks: seq9YTicks, xDec: 1, yDec: 0, yTitle: 'Y', yTitleGap: 25,
  title: 'Trajectory in the XY plane', legendCorner: 'left', train: seq9XYTrain, test: seq9XYTest });
makePanel({ area: [363, 385, 648, 659], xRange: [2.15, 24.2], yRange: [-1.06, 1.33],
  xTicks: seq9XTicks, yTicks: seq9ZTicks, xDec: 1, yDec: 1, yTitle: 'Z', yTitleGap: 31,
  title: 'Trajectory in the XZ plane', legendCorner: 'left', train: seq9XZTrain, test: seq9XZTest });
makePanel({ area: [38, 751, 317, 1023], xRange: [-22.83, 0.59], yRange: [3.92, 13.91],
  xTicks: seq14XTicks, yTicks: seq14YTicks, xDec: 0, yDec: 0, yTitle: 'Y', yTitleGap: 25,
  title: 'Trajectory in the XY plane', legendCorner: 'right', train: seq14XYTrain, test: seq14XYTest });
makePanel({ area: [364, 751, 643, 1023], xRange: [-23.15, 0.6], yRange: [-1.215, 0.925],
  xTicks: seq14XTicks, yTicks: seq14ZTicks, xDec: 0, yDec: 2, yTitle: 'Z', yTitleGap: 34,
  title: 'Trajectory in the XZ plane', legendCorner: 'right', train: seq14XZTrain, test: seq14XZTest });
</script>
</body>
</html>
